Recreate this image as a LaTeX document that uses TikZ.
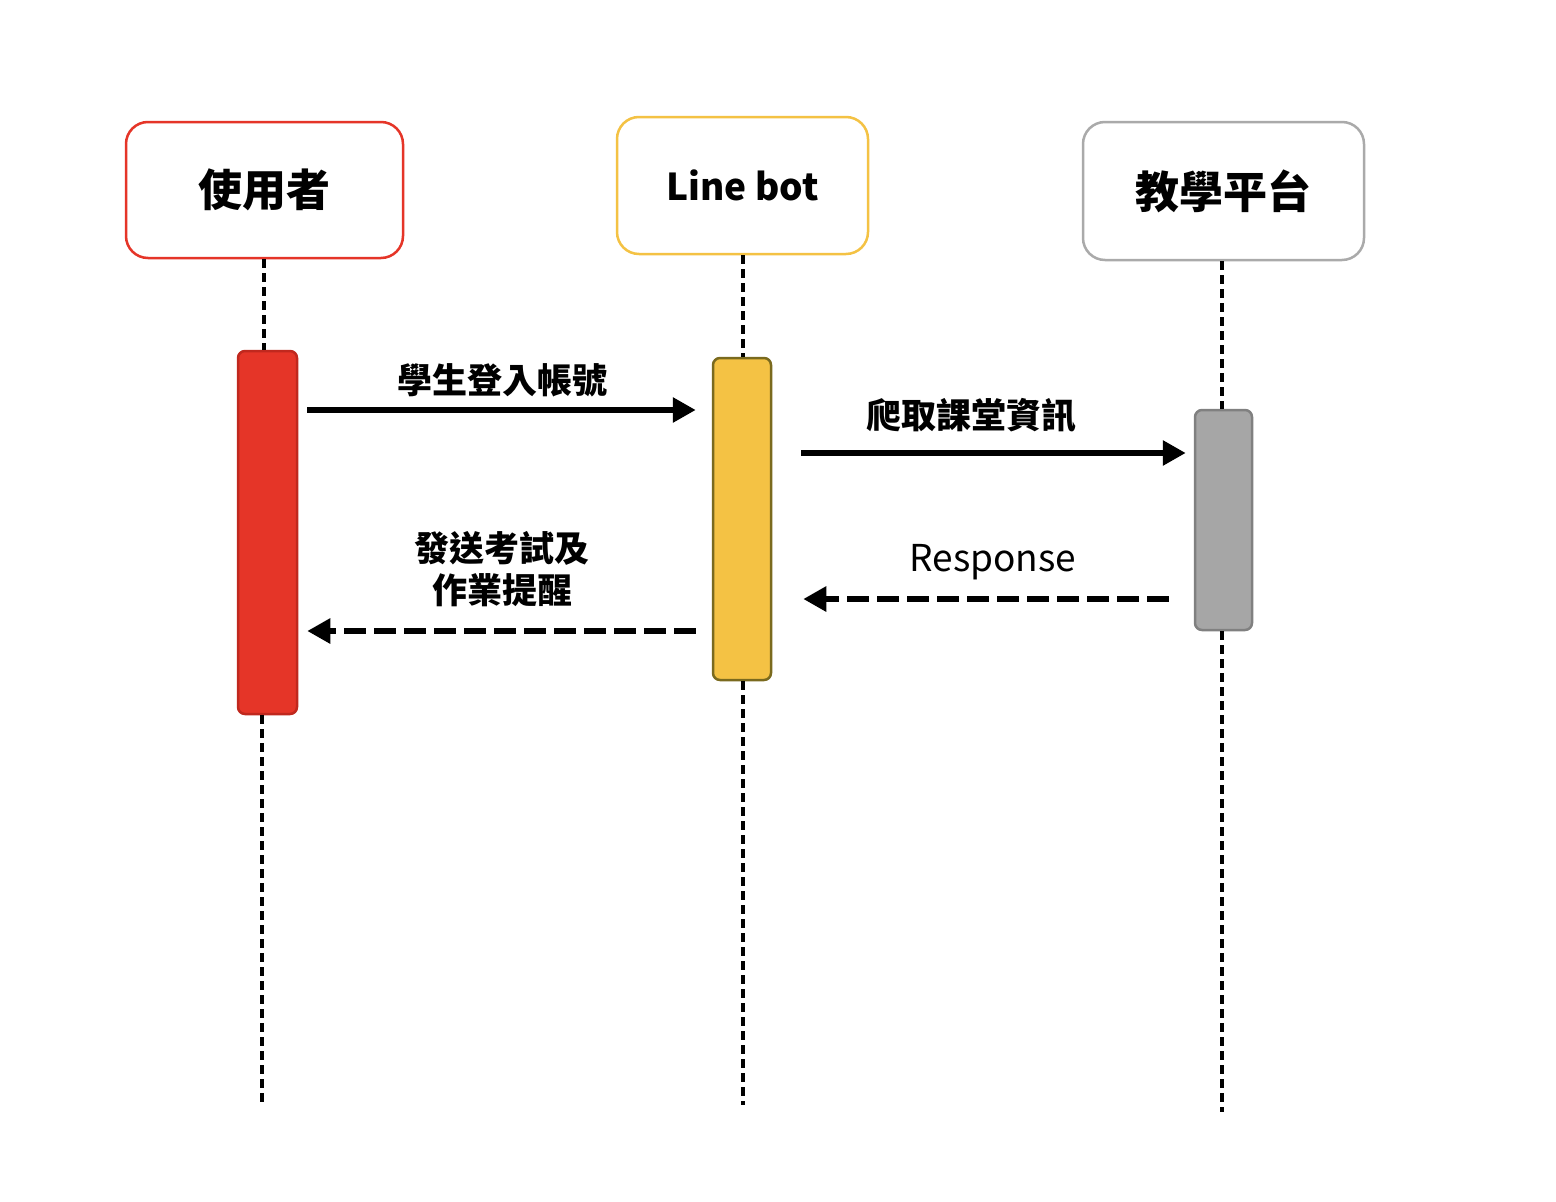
\documentclass[tikz,border=0pt]{standalone}
\usepackage{fontspec}
\setmainfont{Noto Sans CJK TC}
\usetikzlibrary{arrows.meta}
\definecolor{cred}{HTML}{E53528}
\definecolor{credd}{HTML}{C0281E}
\definecolor{cyel}{HTML}{F4C244}
\definecolor{cyeld}{HTML}{7A6A1E}
\definecolor{cgray}{HTML}{AAAAAA}
\definecolor{cgrayf}{HTML}{A6A6A6}
\definecolor{cgrayd}{HTML}{808080}
\begin{document}
\begin{tikzpicture}[x=1pt,y=-1pt,
  actor/.style={draw, line width=2.5pt, rounded corners=22pt, fill=white, inner sep=0pt,
    font=\fontsize{44}{52}\selectfont\bfseries},
  actbar/.style={draw, line width=2.5pt, rounded corners=7pt, inner sep=0pt},
  life/.style={line width=3.2pt, dash pattern=on 9pt off 5pt},
  msg/.style={line width=6.5pt, -{Triangle[length=23pt,width=24pt]}},
  reply/.style={msg, dash pattern=on 22pt off 8pt},
  lbl/.style={inner sep=0pt, font=\fontsize{35}{42}\selectfont\bfseries, align=center},
  lblr/.style={inner sep=0pt, font=\fontsize{37}{44}\selectfont},
]
\fill[white] (0,0) rectangle (1556,1202);
\useasboundingbox (0,0) rectangle (1556,1202);

% actors
\node[actor, draw=cred, minimum width=277pt, minimum height=136pt] (u) at (264.5,190) {使用者};
\node[actor, draw=cyel, minimum width=251pt, minimum height=137pt,
      font=\fontsize{37}{44}\selectfont\bfseries] (b) at (742.5,185.5) {Line bot};
\node[actor, draw=cgray, minimum width=281pt, minimum height=138pt] (p) at (1223.5,191) {教學平台};

% activation bars
\node[actbar, fill=cred, draw=credd, minimum width=59pt, minimum height=363pt] (ub) at (267.5,532.5) {};
\node[actbar, fill=cyel, draw=cyeld, minimum width=58pt, minimum height=322pt] (bb) at (742,519) {};
\node[actbar, fill=cgrayf, draw=cgrayd, minimum width=57pt, minimum height=220pt] (pb) at (1223.5,520) {};

% lifeline ends
\coordinate (ue) at (262,1103);
\coordinate (be) at (743,1105);
\coordinate (pe) at (1222,1112);

% lifelines
\draw[life] (u.south -| 264,0) -- (ub.north -| 264,0);
\draw[life] (ub.south -| 262,0) -- (ue);
\draw[life] (b.south -| 743,0) -- (bb.north -| 743,0);
\draw[life] (bb.south -| 743,0) -- (be);
\draw[life] (p.south -| 1222,0) -- (pb.north -| 1222,0);
\draw[life] (pb.south -| 1222,0) -- (pe);

% message rows
\coordinate (r1) at (0,410);
\coordinate (r2) at (0,453);
\coordinate (r3) at (0,599);
\coordinate (r4) at (0,631);

\draw[msg] ([xshift=9pt]ub.east |- r1) -- ([xshift=-16pt]bb.west |- r1);
\draw[msg] ([xshift=29pt]bb.east |- r2) -- ([xshift=-8pt]pb.west |- r2);
\draw[reply] ([xshift=-25pt]pb.west |- r3) -- ([xshift=31pt]bb.east |- r3);
\draw[reply] ([xshift=-16pt]bb.west |- r4) -- ([xshift=9pt]ub.east |- r4);

% labels
\node[lbl] (l1) at (502,380) {學生登入帳號};
\node[lbl] (l2) at (971,415) {爬取課堂資訊};
\node[lblr] (l3) at (993,562) {Response};
\node[lbl] (l4) at (502,569) {發送考試及\\作業提醒};
\end{tikzpicture}
\end{document}
